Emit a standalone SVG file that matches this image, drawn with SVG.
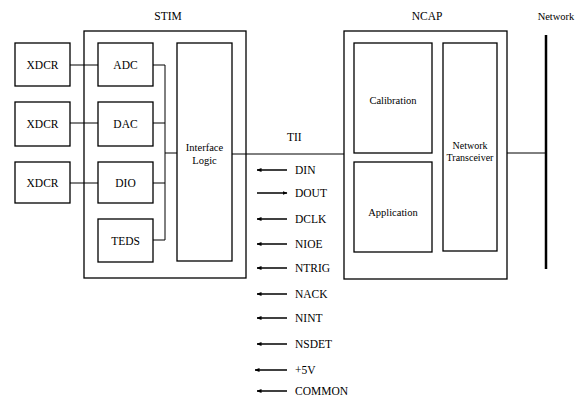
<svg xmlns="http://www.w3.org/2000/svg" width="576" height="396" viewBox="0 0 576 396">
<defs>
<marker id="ah" viewBox="0 0 10 10" refX="9" refY="5" markerWidth="5" markerHeight="5" orient="auto" markerUnits="userSpaceOnUse">
<path d="M0,1 L10,5 L0,9 z" fill="#000"/>
</marker>
</defs>
<style>
.box{fill:#fff;stroke:#000;stroke-width:1.3}
.ln{fill:none;stroke:#000;stroke-width:1}
.c{text-anchor:middle}
.sig{stroke:#000;stroke-width:1.5;marker-end:url(#ah)}
text{font-family:'Times New Roman','DejaVu Serif',serif}
</style>
<rect width="576" height="396" fill="#fff"/>
<g font-size="11.5" fill="#000">
<text class="c" x="168" y="20">STIM</text>
<text class="c" x="427" y="20">NCAP</text>
<text class="c" x="556" y="20" font-size="10.5">Network</text>
<text x="287" y="141">TII</text>
<g id="stim"><rect class="box" x="84" y="31" width="162" height="247"/></g>
<g id="ncap"><rect class="box" x="344" y="31" width="163" height="248"/></g>
<g id="xdcr1"><rect class="box" x="15" y="43" width="55" height="43"/><text class="c" x="42.5" y="69">XDCR</text></g>
<g id="xdcr2"><rect class="box" x="15" y="102" width="55" height="44"/><text class="c" x="42.5" y="128">XDCR</text></g>
<g id="xdcr3"><rect class="box" x="15" y="162" width="55" height="41"/><text class="c" x="42.5" y="187">XDCR</text></g>
<g id="adc"><rect class="box" x="98" y="43" width="55" height="43"/><text class="c" x="125.5" y="69">ADC</text></g>
<g id="dac"><rect class="box" x="98" y="102" width="55" height="44"/><text class="c" x="125.5" y="128">DAC</text></g>
<g id="dio"><rect class="box" x="98" y="162" width="55" height="41"/><text class="c" x="125.5" y="187">DIO</text></g>
<g id="teds"><rect class="box" x="98" y="219" width="55" height="43"/><text class="c" x="125.5" y="245">TEDS</text></g>
<g id="iface" font-size="10.5"><rect class="box" x="177" y="43" width="55" height="218"/><text class="c" x="204.5" y="151">Interface</text><text class="c" x="204.5" y="164">Logic</text></g>
<g id="calib" font-size="10.5"><rect class="box" x="354" y="43" width="78" height="110"/><text class="c" x="393" y="104">Calibration</text></g>
<g id="app" font-size="10.5"><rect class="box" x="354" y="162" width="78" height="90"/><text class="c" x="393" y="216">Application</text></g>
<g id="transceiver" font-size="10"><rect class="box" x="443" y="43" width="54" height="208"/><text class="c" x="470" y="149">Network</text><text class="c" x="470" y="161">Transceiver</text></g>
<g id="network"><line x1="546" y1="35" x2="546" y2="269" stroke="#000" stroke-width="2.5"/></g>
<g id="connectors">
<line class="ln" x1="70" y1="65" x2="98" y2="65"/>
<line class="ln" x1="70" y1="123" x2="98" y2="123"/>
<line class="ln" x1="70" y1="183" x2="98" y2="183" stroke-width="1.6"/>
<polyline class="ln" points="153,65 165,65 165,240 153,240"/>
<line class="ln" x1="153" y1="123" x2="165" y2="123"/>
<line class="ln" x1="153" y1="183" x2="165" y2="183"/>
<line class="ln" x1="165" y1="153" x2="177" y2="153"/>
<line class="ln" x1="232" y1="154" x2="344" y2="154" stroke-width="1.3"/>
<line class="ln" x1="507" y1="153" x2="546" y2="153"/>
</g>
<g id="signals">
<line class="sig" x1="287" y1="170" x2="257" y2="170"/>
<line class="sig" x1="257" y1="193" x2="287" y2="193"/>
<line class="sig" x1="287" y1="219" x2="257" y2="219"/>
<line class="sig" x1="287" y1="244" x2="257" y2="244"/>
<line class="sig" x1="287" y1="268" x2="257" y2="268"/>
<line class="sig" x1="287" y1="294" x2="257" y2="294"/>
<line class="sig" x1="287" y1="318" x2="257" y2="318"/>
<line class="sig" x1="287" y1="344" x2="257" y2="344"/>
<line class="sig" x1="287" y1="370" x2="255" y2="370" stroke-width="2"/>
<line class="sig" x1="287" y1="391" x2="257" y2="391"/>
<text x="295" y="174">DIN</text>
<text x="295" y="197">DOUT</text>
<text x="295" y="223">DCLK</text>
<text x="295" y="248">NIOE</text>
<text x="295" y="272">NTRIG</text>
<text x="295" y="298">NACK</text>
<text x="295" y="322">NINT</text>
<text x="295" y="348">NSDET</text>
<text x="295" y="374">+5V</text>
<text x="295" y="395">COMMON</text>
</g>
</g>
</svg>
